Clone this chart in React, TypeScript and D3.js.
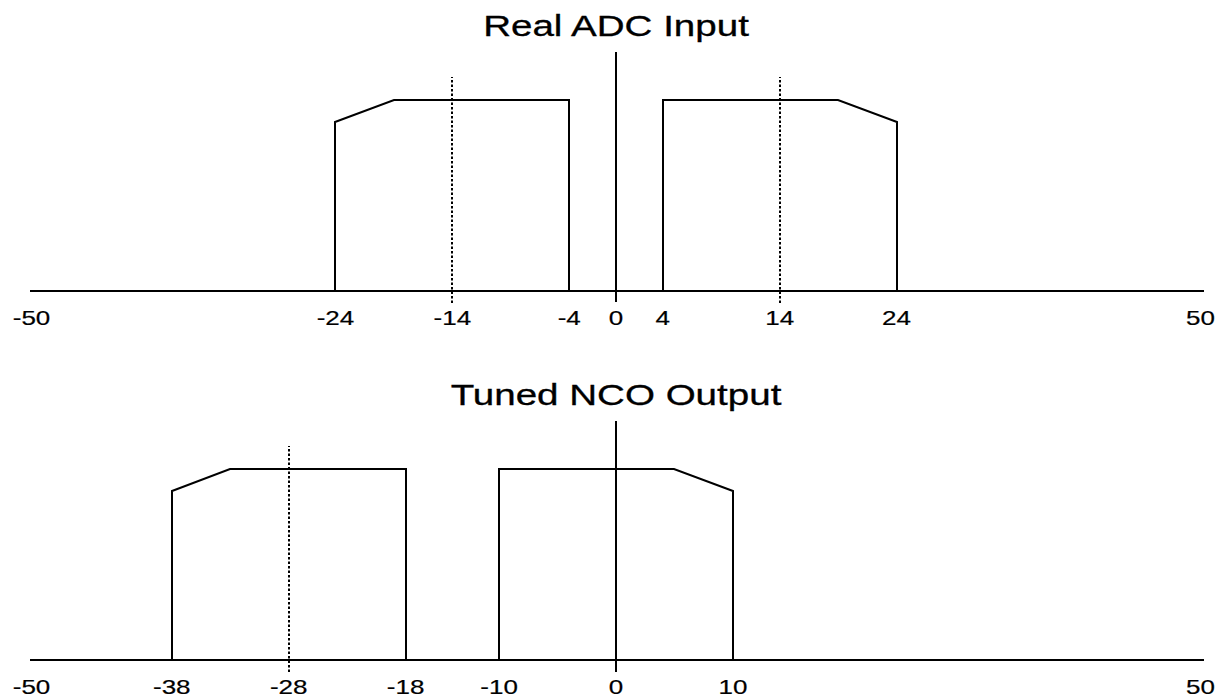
import React from "react";
import * as d3 from "d3";

// ---- data ----
const freqDomain = [-50, 50];
const adcTicks = [-50, -24, -14, -4, 0, 4, 14, 24, 50];
const ncoTicks = [-50, -38, -28, -18, -10, 0, 10, 50];

const adcBandLeft = [
  { f: -24, a: 0 }, { f: -24, a: 0.88 }, { f: -19, a: 1 }, { f: -4, a: 1 }, { f: -4, a: 0 },
];
const adcBandRight = [
  { f: 4, a: 0 }, { f: 4, a: 1 }, { f: 19, a: 1 }, { f: 24, a: 0.88 }, { f: 24, a: 0 },
];
const ncoBandLeft = [
  { f: -38, a: 0 }, { f: -38, a: 0.88 }, { f: -33, a: 1 }, { f: -18, a: 1 }, { f: -18, a: 0 },
];
const ncoBandRight = [
  { f: -10, a: 0 }, { f: -10, a: 1 }, { f: 5, a: 1 }, { f: 10, a: 0.88 }, { f: 10, a: 0 },
];
const adcCenters = [-14, 14];
const ncoCenters = [-28, 0];

const panels = [
  { title: "Real ADC Input", ticks: adcTicks, bands: [adcBandLeft, adcBandRight], centers: adcCenters, axisY: 291 },
  { title: "Tuned NCO Output", ticks: ncoTicks, bands: [ncoBandLeft, ncoBandRight], centers: ncoCenters, axisY: 660 },
];

const W = 1219;
const H = 697;
const FONT = "'Liberation Sans', Arial, Helvetica, sans-serif";

function Panel({ p }: { p: (typeof panels)[number] }) {
  const x = d3.scaleLinear().domain(freqDomain).range([31.5, 1200.5]);
  const y = d3.scaleLinear().domain([0, 1]).range([p.axisY, p.axisY - 191.5]);
  const px = (v: number) => Math.round(x(v));
  const py = (v: number) => Math.round(y(v));
  const line = d3
    .line<{ f: number; a: number }>()
    .x((d) => px(d.f))
    .y((d) => py(d.a));
  const [r0, r1] = x.range();
  return (
    <g>
      <g transform={`translate(${x(0)},${p.axisY - 255}) scale(1.33,1)`}>
        <text textAnchor="middle" fontFamily={FONT} fontSize={29} fill="#000" stroke="#000" strokeWidth={0.3}>
          {p.title}
        </text>
      </g>
      {p.bands.map((b, i) => (
        <path key={i} d={line(b) || ""} fill="none" stroke="#000" strokeWidth={2} strokeLinejoin="miter" />
      ))}
      {p.centers.map((c, i) => (
        <line
          key={i}
          x1={px(c)}
          x2={px(c)}
          y1={py(-0.063)}
          y2={py(1.117)}
          stroke="#000"
          strokeWidth={2}
          strokeDasharray="2.5,2"
        />
      ))}
      <line x1={px(0)} x2={px(0)} y1={py(-0.057)} y2={py(1.25)} stroke="#000" strokeWidth={2} />
      <line x1={Math.round(r0 - 2)} x2={Math.round(r1 + 3)} y1={p.axisY} y2={p.axisY} stroke="#000" strokeWidth={2} />
      {p.ticks.map((t) => (
        <g key={t} transform={`translate(${x(t)},${p.axisY + 33.5}) scale(1.3,1)`}>
          <text textAnchor="middle" fontFamily={FONT} fontSize={20} fill="#000" stroke="#000" strokeWidth={0.2}>
            {String(t)}
          </text>
        </g>
      ))}
    </g>
  );
}

export default function App() {
  return (
    <svg
      width={W}
      height={H}
      viewBox={`0 0 ${W} ${H}`}
      style={{ position: "absolute", left: 0, top: 0, background: "#fff" }}
    >
      <rect width={W} height={H} fill="#fff" />
      {panels.map((p) => (
        <Panel key={p.title} p={p} />
      ))}
    </svg>
  );
}
